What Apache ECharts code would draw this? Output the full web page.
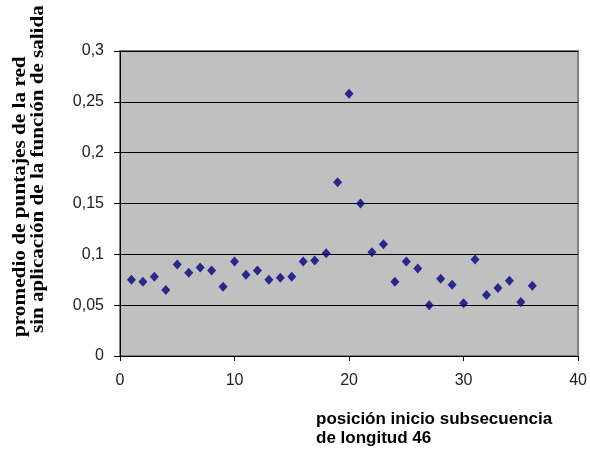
<!DOCTYPE html>
<html>
<head>
<meta charset="utf-8">
<script src="https://cdn.jsdelivr.net/npm/echarts@6/dist/echarts.min.js"></script>
<style>
  html, body { margin: 0; padding: 0; background: #fff; }
  #chart { width: 590px; height: 452px; }
</style>
</head>
<body>
<div id="chart"></div>
<script>
// Start position of each subsequence (length 46)
const positions = [1,2,3,4,5,6,7,8,9,10,11,12,13,14,15,16,17,18,
                   19,20,21,22,23,24,25,26,27,28,29,30,31,32,33,34,35,36];
// Mean network score without the output function applied
const meanScores = [0.075,0.073,0.078,0.065,0.090,0.082,0.087,0.084,0.068,0.093,
                    0.080,0.084,0.075,0.077,0.078,0.093,0.094,0.101,0.171,0.258,
                    0.150,0.102,0.110,0.073,0.093,0.086,0.050,0.076,0.070,0.052,
                    0.095,0.060,0.067,0.074,0.053,0.069];
const yTicks = ['0','0,05','0,1','0,15','0,2','0,25','0,3'];
const xTicks = ['0','10','20','30','40'];
const yTitle = ['promedio de puntajes de la red', 'sin aplicación de la función de salida'];
const xTitle = 'posición inicio subsecuencia\nde longitud 46';

const chart = echarts.init(document.getElementById('chart'), null, { renderer: 'canvas' });
const points = positions.map((p, i) => [p, meanScores[i]]);

const tickFont = { fontFamily: 'Liberation Sans', fontSize: 16, color: '#222' };

chart.setOption({
  animation: false,
  backgroundColor: '#ffffff',
  grid: {
    left: 120, right: 7, top: 51, bottom: 96,
    show: true, backgroundColor: '#c0c0c0',
    borderColor: '#808080', borderWidth: 2
  },
  xAxis: {
    type: 'value', min: 0, max: 40, interval: 10,
    axisLine: { show: true, onZero: false, lineStyle: { color: '#000', width: 1 } },
    axisTick: { show: true, inside: false, length: 5, lineStyle: { color: '#000' } },
    splitLine: { show: false },
    axisLabel: Object.assign({ margin: 17, formatter: v => xTicks[Math.round(v / 10)] }, tickFont)
  },
  yAxis: {
    type: 'value', min: 0, max: 0.3, interval: 0.05,
    axisLine: { show: true, lineStyle: { color: '#000', width: 1 } },
    axisTick: { show: true, inside: false, length: 6, lineStyle: { color: '#000' } },
    splitLine: { show: true, lineStyle: { color: '#000', width: 1 } },
    axisLabel: Object.assign({ margin: 16, formatter: v => yTicks[Math.round(v / 0.05)] }, tickFont)
  },
  series: [{
    type: 'scatter',
    data: points,
    symbol: 'diamond',
    symbolSize: [9, 10],
    itemStyle: { color: '#000080' }
  }],
  graphic: [
    {
      type: 'text', x: 20, y: 337, rotation: Math.PI / 2, scaleX: 1.18,
      style: {
        text: yTitle[0], x: 0, y: 0, textAlign: 'left', textVerticalAlign: 'middle',
        font: 'bold 18px "Liberation Serif"', fill: '#000'
      }
    },
    {
      type: 'text', x: 38, y: 333, rotation: Math.PI / 2, scaleX: 1.17,
      style: {
        text: yTitle[1], x: 0, y: 0, textAlign: 'left', textVerticalAlign: 'middle',
        font: 'bold 18px "Liberation Serif"', fill: '#000'
      }
    },
    {
      type: 'text', left: 316, top: 410,
      style: {
        text: xTitle, font: 'bold 17px "Liberation Sans"', lineHeight: 19, fill: '#000'
      }
    }
  ]
});
</script>
</body>
</html>
